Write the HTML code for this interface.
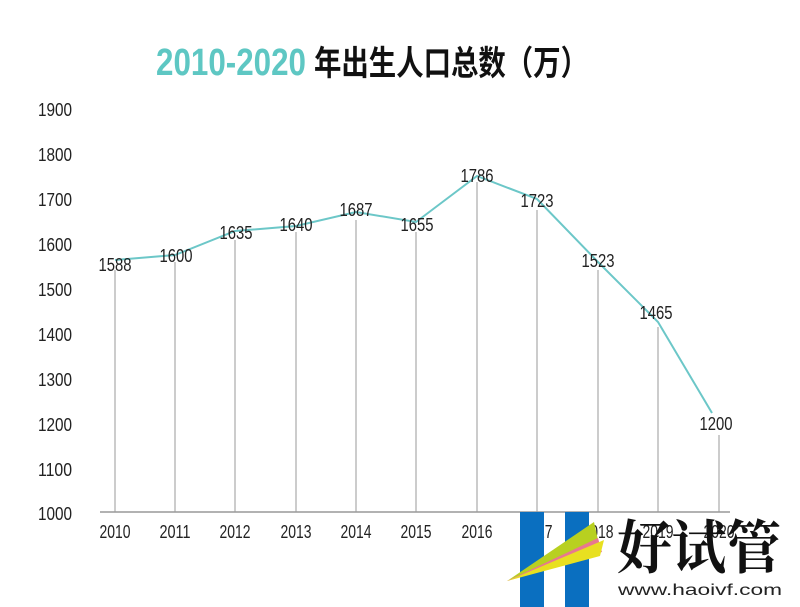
<!DOCTYPE html>
<html><head><meta charset="utf-8"><style>
body{margin:0;background:#fff;}
svg{display:block}
.n{font-family:"Liberation Sans",sans-serif;font-size:18px;fill:#222;}
</style></head><body>
<svg width="800" height="607" viewBox="0 0 800 607" xmlns="http://www.w3.org/2000/svg">
<rect width="800" height="607" fill="#fff"/>
<text x="156" y="75" textLength="150" lengthAdjust="spacingAndGlyphs" font-family="Liberation Sans,sans-serif" font-weight="bold" font-size="38" fill="#5ec7c3">2010-2020</text>
<text x="314" y="75" textLength="274" lengthAdjust="spacingAndGlyphs" font-family="Liberation Sans,Noto Sans CJK SC,sans-serif" font-weight="bold" font-size="34" fill="#111">年出生人口总数（万）</text>
<g class="n" text-anchor="start">
<text x="38" y="116" textLength="34" lengthAdjust="spacingAndGlyphs">1900</text><text x="38" y="161" textLength="34" lengthAdjust="spacingAndGlyphs">1800</text><text x="38" y="206" textLength="34" lengthAdjust="spacingAndGlyphs">1700</text>
<text x="38" y="251" textLength="34" lengthAdjust="spacingAndGlyphs">1600</text><text x="38" y="296" textLength="34" lengthAdjust="spacingAndGlyphs">1500</text><text x="38" y="341" textLength="34" lengthAdjust="spacingAndGlyphs">1400</text>
<text x="38" y="386" textLength="34" lengthAdjust="spacingAndGlyphs">1300</text><text x="38" y="431" textLength="34" lengthAdjust="spacingAndGlyphs">1200</text><text x="38" y="476" textLength="34" lengthAdjust="spacingAndGlyphs">1100</text>
<text x="38" y="520" textLength="34" lengthAdjust="spacingAndGlyphs">1000</text>
</g>
<g stroke="#bbb" stroke-width="1.5">
<line x1="115" y1="270" x2="115" y2="512"/><line x1="175" y1="262" x2="175" y2="512"/>
<line x1="235" y1="240" x2="235" y2="512"/><line x1="296" y1="232" x2="296" y2="512"/>
<line x1="356" y1="220" x2="356" y2="512"/><line x1="416" y1="232" x2="416" y2="512"/>
<line x1="477" y1="182" x2="477" y2="512"/><line x1="537" y1="210" x2="537" y2="512"/>
<line x1="598" y1="270" x2="598" y2="512"/><line x1="658" y1="327" x2="658" y2="512"/>
<line x1="719" y1="435" x2="719" y2="512"/>
</g>
<line x1="100" y1="512" x2="730" y2="512" stroke="#999" stroke-width="1.5"/>
<polyline fill="none" stroke="#6cc7c8" stroke-width="2" points="115,260 175,255 235,231 296,226 356,212 416,222 477,176 537,199 598,262 658,322 712,413"/>
<g class="n" text-anchor="middle" font-size="19">
<text x="115" y="271" textLength="33" lengthAdjust="spacingAndGlyphs">1588</text><text x="176" y="262" textLength="33" lengthAdjust="spacingAndGlyphs">1600</text><text x="236" y="239" textLength="33" lengthAdjust="spacingAndGlyphs">1635</text>
<text x="296" y="231" textLength="33" lengthAdjust="spacingAndGlyphs">1640</text><text x="356" y="216" textLength="33" lengthAdjust="spacingAndGlyphs">1687</text><text x="417" y="231" textLength="33" lengthAdjust="spacingAndGlyphs">1655</text>
<text x="477" y="182" textLength="33" lengthAdjust="spacingAndGlyphs">1786</text><text x="537" y="207" textLength="33" lengthAdjust="spacingAndGlyphs">1723</text><text x="598" y="267" textLength="33" lengthAdjust="spacingAndGlyphs">1523</text>
<text x="656" y="319" textLength="33" lengthAdjust="spacingAndGlyphs">1465</text><text x="716" y="430" textLength="33" lengthAdjust="spacingAndGlyphs">1200</text>
</g>
<g class="n" text-anchor="middle" font-size="17">
<text x="115" y="538" textLength="31" lengthAdjust="spacingAndGlyphs">2010</text><text x="175" y="538" textLength="31" lengthAdjust="spacingAndGlyphs">2011</text><text x="235" y="538" textLength="31" lengthAdjust="spacingAndGlyphs">2012</text>
<text x="296" y="538" textLength="31" lengthAdjust="spacingAndGlyphs">2013</text><text x="356" y="538" textLength="31" lengthAdjust="spacingAndGlyphs">2014</text><text x="416" y="538" textLength="31" lengthAdjust="spacingAndGlyphs">2015</text>
<text x="477" y="538" textLength="31" lengthAdjust="spacingAndGlyphs">2016</text><text x="537" y="538" textLength="31" lengthAdjust="spacingAndGlyphs">2017</text><text x="598" y="538" textLength="31" lengthAdjust="spacingAndGlyphs">2018</text>
<text x="658" y="538" textLength="31" lengthAdjust="spacingAndGlyphs">2019</text><text x="719" y="538" textLength="31" lengthAdjust="spacingAndGlyphs">2020</text>
</g>
<rect x="520" y="512" width="24" height="95" fill="#0a6fc0"/>
<rect x="565" y="512" width="24" height="95" fill="#0a6fc0"/>
<polygon points="507,581 594,522 598,540" fill="#b8d020"/>
<polygon points="507,581 598,538 602,552" fill="#e87890"/>
<polygon points="507,581 604,540 600,556" fill="#e8e020"/>
<text x="617" y="568" textLength="164" lengthAdjust="spacingAndGlyphs" font-family="Noto Serif CJK SC,serif" font-weight="bold" font-size="58" fill="#111">好试管</text>
<text x="618" y="595" textLength="164" lengthAdjust="spacingAndGlyphs" font-family="Liberation Sans,sans-serif" font-size="16" fill="#222">www.haoivf.com</text>
</svg>
</body></html>
